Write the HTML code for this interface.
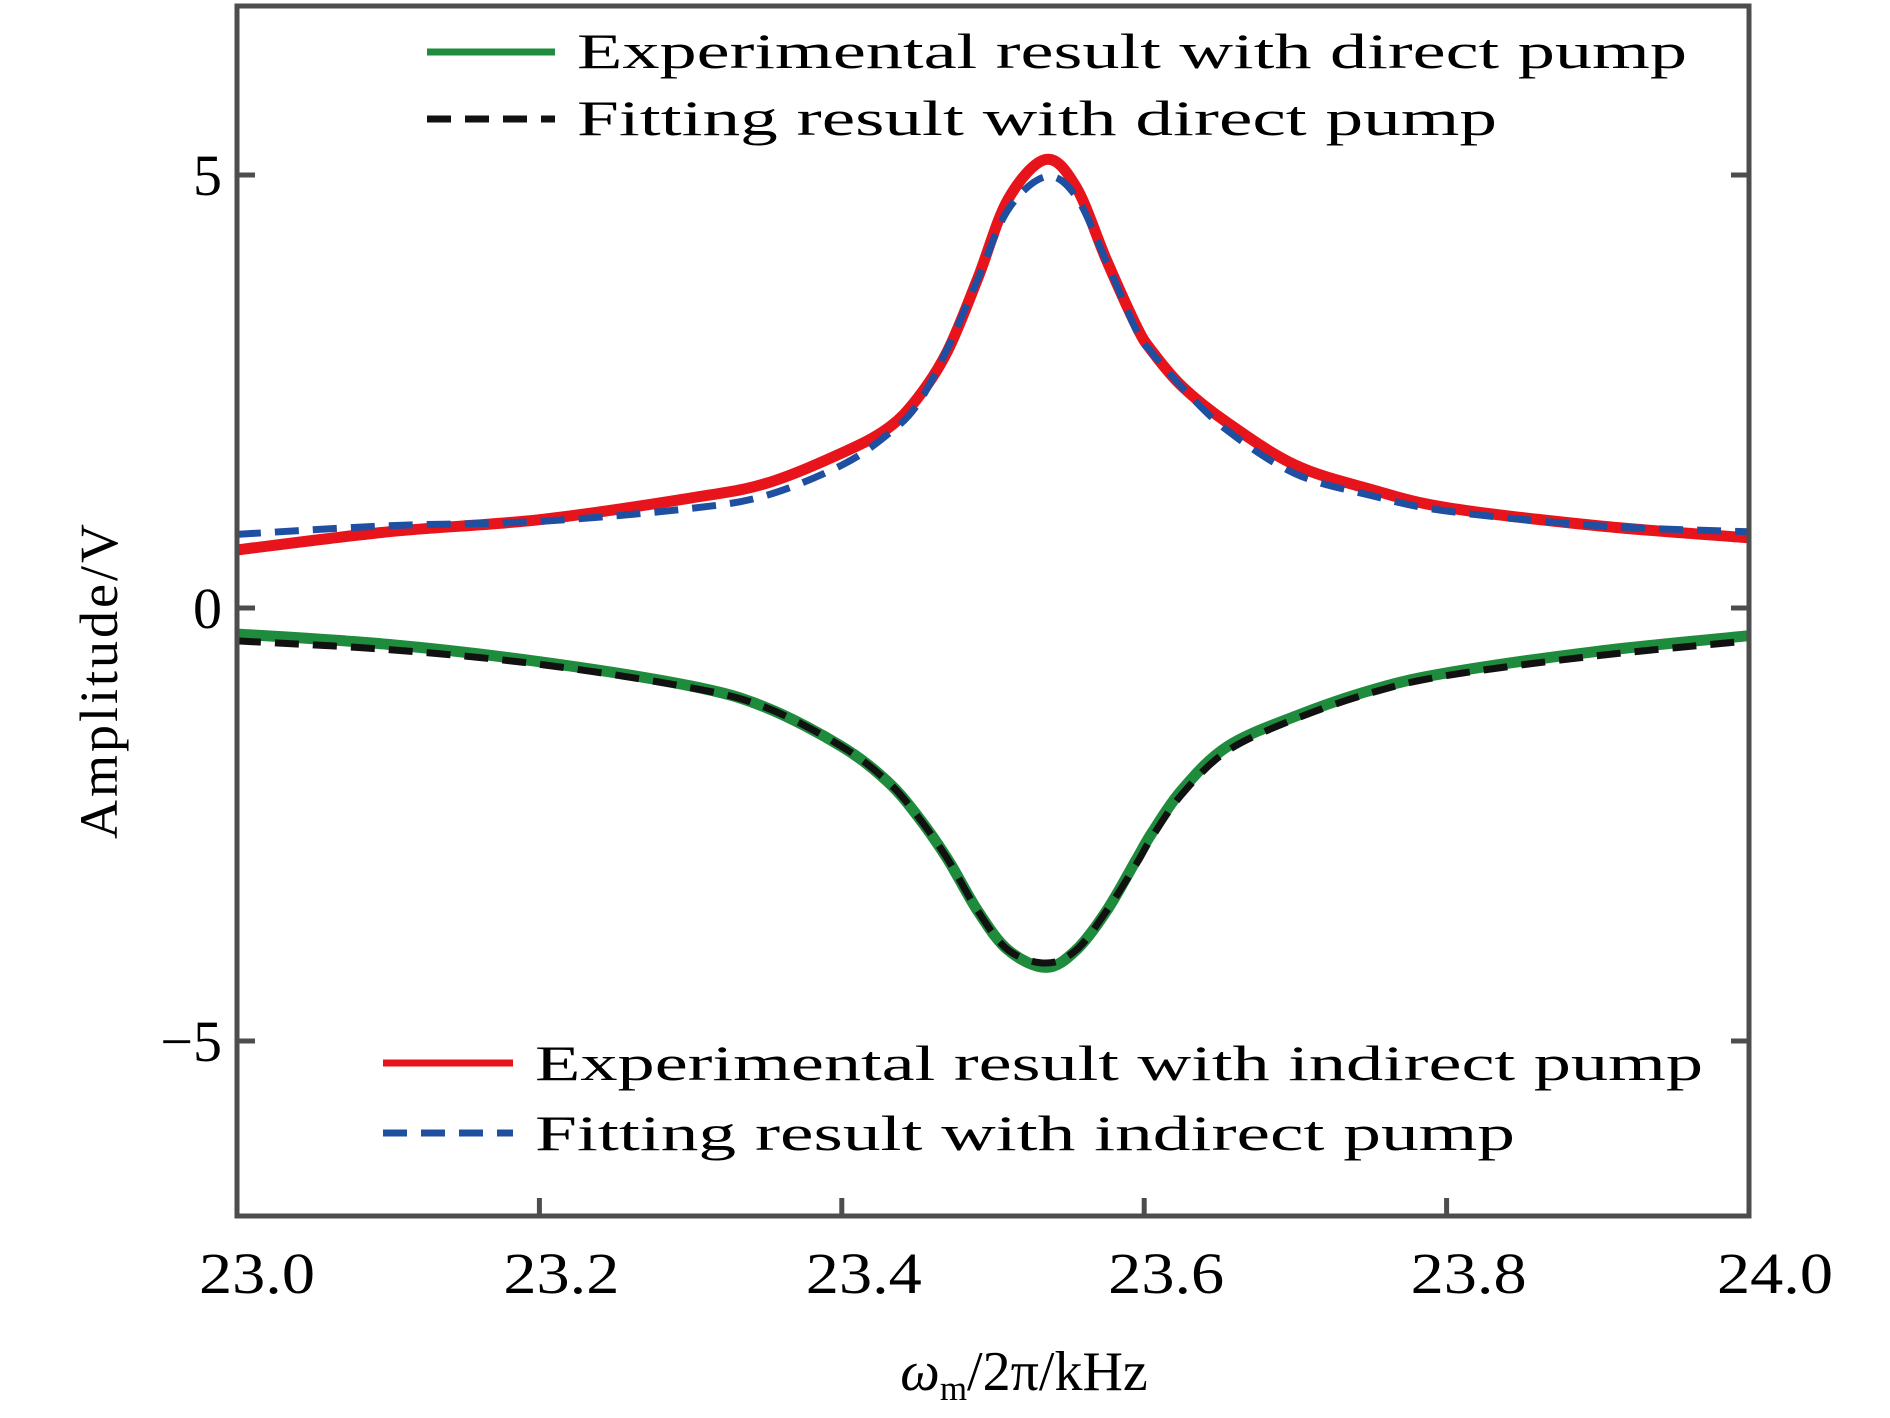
<!DOCTYPE html>
<html><head><meta charset="utf-8"><style>
html,body{margin:0;padding:0;background:#fff;}
svg{display:block;}
text{font-family:"Liberation Serif",serif;fill:#000;}
</style></head><body>
<svg id="chart" width="1890" height="1418" viewBox="0 0 1890 1418" xmlns="http://www.w3.org/2000/svg">
<g id="plot"></g>
<rect x="237" y="6" width="1512" height="1210" fill="none" stroke="#4d4d4d" stroke-width="5"/>
<g id="ticks"></g>
<g>
 <line x1="427" y1="52" x2="555" y2="52" stroke="#1e8c3c" stroke-width="7"/>
 <text x="577" y="68" font-size="50" textLength="1110" lengthAdjust="spacingAndGlyphs">Experimental result with direct pump</text>
 <line x1="427" y1="119" x2="555" y2="119" stroke="#111" stroke-width="7" stroke-dasharray="24,14"/>
 <text x="577" y="135" font-size="50" textLength="920" lengthAdjust="spacingAndGlyphs">Fitting result with direct pump</text>
</g>
<g>
 <line x1="383" y1="1063" x2="513" y2="1063" stroke="#e8141c" stroke-width="7"/>
 <text x="535" y="1080" font-size="50" textLength="1168" lengthAdjust="spacingAndGlyphs">Experimental result with indirect pump</text>
 <line x1="383" y1="1133" x2="513" y2="1133" stroke="#1f4fa0" stroke-width="7" stroke-dasharray="24,14"/>
 <text x="535" y="1150" font-size="50" textLength="980" lengthAdjust="spacingAndGlyphs">Fitting result with indirect pump</text>
</g>
<text x="1024" y="1390" font-size="56" text-anchor="middle"><tspan font-style="italic">ω</tspan><tspan font-size="35" dy="10">m</tspan><tspan dy="-10">/2π/kHz</tspan></text>
<text transform="translate(117,680) rotate(-90)" font-size="54" text-anchor="middle" letter-spacing="3">Amplitude/V</text>
</svg>
<script>
const xTicks=[23.0,23.2,23.4,23.6,23.8,24.0];
const xTickLabels=["23.0","23.2","23.4","23.6","23.8","24.0"];
const yTicks=[5,0,-5];
const yTickLabels=["5","0","−5"];
const freq=[23.0,23.1,23.2,23.3,23.35,23.4,23.43,23.45,23.47,23.49,23.51,23.535,23.555,23.575,23.595,23.605,23.625,23.655,23.7,23.75,23.8,23.9,24.0];
const redExp=[0.67,0.88,1.02,1.27,1.44,1.79,2.07,2.42,2.97,3.81,4.72,5.18,4.86,4.02,3.25,2.97,2.56,2.14,1.65,1.37,1.16,0.95,0.81];
const blueFit=[0.85,0.95,1.0,1.15,1.3,1.65,2.0,2.35,3.0,3.8,4.6,4.98,4.75,4.0,3.2,2.95,2.55,2.05,1.55,1.3,1.12,0.95,0.88];
const greenExp=[-0.3,-0.42,-0.62,-0.9,-1.15,-1.6,-2.0,-2.4,-2.9,-3.5,-3.95,-4.15,-3.95,-3.5,-2.9,-2.6,-2.1,-1.6,-1.25,-0.95,-0.75,-0.5,-0.32];
const blackFit=[-0.38,-0.48,-0.65,-0.92,-1.15,-1.6,-2.0,-2.4,-2.9,-3.5,-3.95,-4.1,-3.95,-3.5,-2.95,-2.65,-2.15,-1.65,-1.28,-0.98,-0.78,-0.55,-0.38];
const X=v=>237+(v-23)*1512;
const Y=v=>608-v*86.6;
const NS="http://www.w3.org/2000/svg";
const plot=document.getElementById('plot');
const ticks=document.getElementById('ticks');
function pathD(xs,ys){
  const p=xs.map((x,i)=>[X(x),Y(ys[i])]);
  let d="M"+p[0][0]+","+p[0][1];
  for(let i=0;i<p.length-1;i++){
    const p0=p[Math.max(0,i-1)],p1=p[i],p2=p[i+1],p3=p[Math.min(p.length-1,i+2)];
    const c1x=p1[0]+(p2[0]-p0[0])/6,c1y=p1[1]+(p2[1]-p0[1])/6;
    const c2x=p2[0]-(p3[0]-p1[0])/6,c2y=p2[1]-(p3[1]-p1[1])/6;
    d+=" C"+c1x+","+c1y+" "+c2x+","+c2y+" "+p2[0]+","+p2[1];
  }
  return d;
}
function addSeries(ys,color,w,dash,name){
  const el=document.createElementNS(NS,'path');
  el.setAttribute('d',pathD(freq,ys));
  el.setAttribute('fill','none');
  el.setAttribute('stroke',color);
  el.setAttribute('stroke-width',w);
  if(dash) el.setAttribute('stroke-dasharray',dash);
  
  
  plot.appendChild(el);
}
addSeries(greenExp,'#1e8c3c',11,null,'series-green-experimental-direct');
addSeries(blackFit,'#111111',7,'24,14','series-black-fit-direct');
addSeries(redExp,'#e8141c',11,null,'series-red-experimental-indirect');
addSeries(blueFit,'#1f4fa0',7,'24,14','series-blue-fit-indirect');
xTicks.forEach((v,i)=>{
  const l=document.createElementNS(NS,'line');
  l.setAttribute('x1',X(v));l.setAttribute('x2',X(v));
  l.setAttribute('y1',1216);l.setAttribute('y2',1198);
  l.setAttribute('stroke','#4d4d4d');l.setAttribute('stroke-width',5);
  
  
  ticks.appendChild(l);
  const t=document.createElementNS(NS,'text');
  t.setAttribute('x',X(v)+(i==0?20:(i==5?26:22)));t.setAttribute('y',1293);
  t.setAttribute('font-size','58');t.setAttribute('text-anchor','middle');
  t.setAttribute('textLength','116');t.setAttribute('lengthAdjust','spacingAndGlyphs');
  t.textContent=xTickLabels[i];
  
  
  ticks.appendChild(t);
});
yTicks.forEach((v,i)=>{
  [[237,255],[1749,1731]].forEach(([a,b])=>{
    const l=document.createElementNS(NS,'line');
    l.setAttribute('x1',a);l.setAttribute('x2',b);
    l.setAttribute('y1',Y(v));l.setAttribute('y2',Y(v));
    l.setAttribute('stroke','#4d4d4d');l.setAttribute('stroke-width',5);
    
    
    ticks.appendChild(l);
  });
  const t=document.createElementNS(NS,'text');
  t.setAttribute('x',222);t.setAttribute('y',Y(v)+20);
  t.setAttribute('font-size','58');t.setAttribute('text-anchor','end');
  t.textContent=yTickLabels[i];
  
  
  ticks.appendChild(t);
});
</script>
</body></html>
